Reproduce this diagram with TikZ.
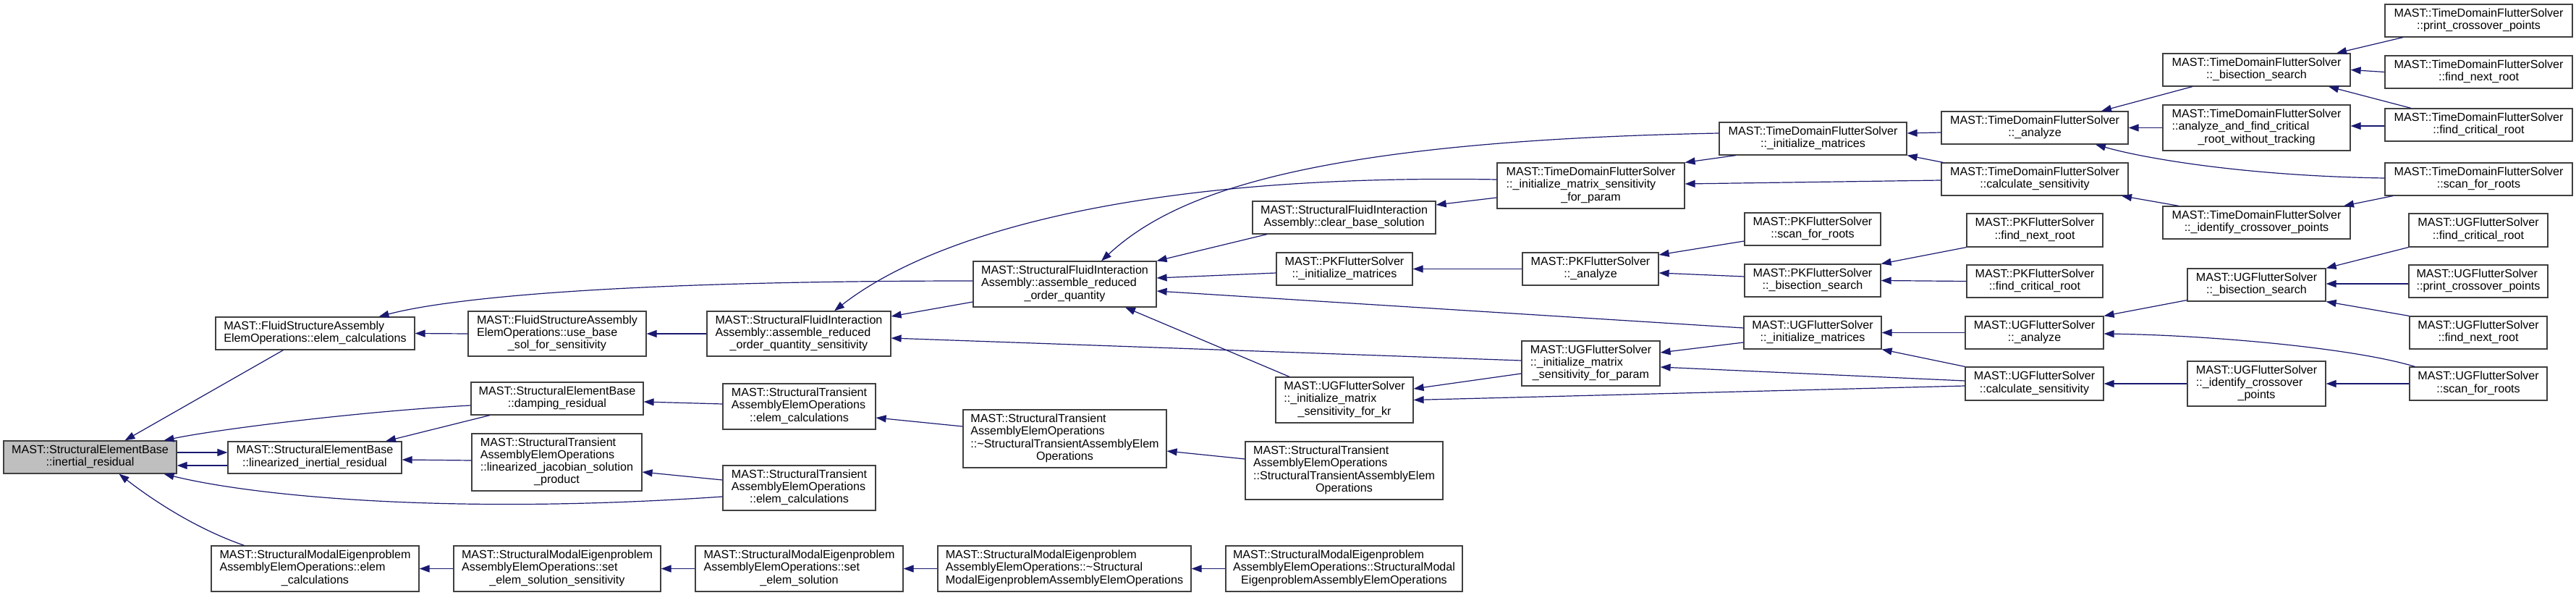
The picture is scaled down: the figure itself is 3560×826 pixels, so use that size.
\documentclass[tikz,border=0pt]{standalone}
\usepackage{fontspec}
\setsansfont{Liberation Sans}
\usetikzlibrary{arrows.meta}

\definecolor{edgeblue}{HTML}{191970}
\definecolor{rootgray}{HTML}{BFBFBF}
\definecolor{boxline}{HTML}{404040}

% first lines left, last line centred (doxygen style)
\newcommand{\fnlabel}[2]{\begin{tabular}{@{}l@{}}#1\\\multicolumn{1}{@{}c@{}}{#2}\end{tabular}}

\begin{document}
\begin{tikzpicture}[
  x=1pt, y=-1pt,
  font=\sffamily\fontsize{16.1}{17.3}\selectfont,
  >={Triangle[length=14pt,width=10pt]},
  fn/.style={draw=boxline, line width=1.2pt, fill=white, inner sep=0pt},
  call/.style={draw=edgeblue, line width=1.2pt, <-}
]
\useasboundingbox (0,0) rectangle (3560,826);

% Root
\node[fn, fill=rootgray, minimum width=239pt, minimum height=45pt] (root) at (124.5,631.5) {\fnlabel{MAST::StructuralElementBase}{::inertial\_residual}};

% Column 1
\node[fn, minimum width=275pt, minimum height=45pt] (fsaElem) at (435.5,460.5) {\fnlabel{MAST::FluidStructureAssembly}{ElemOperations::elem\_calculations}};
\node[fn, minimum width=240pt, minimum height=44pt] (linRes) at (435,632) {\fnlabel{MAST::StructuralElementBase}{::linearized\_inertial\_residual}};
\node[fn, minimum width=287pt, minimum height=63pt] (modalElem) at (435.5,785.5) {\fnlabel{MAST::StructuralModalEigenproblem\\AssemblyElemOperations::elem}{\_calculations}};

% Column 2
\node[fn, minimum width=246pt, minimum height=62pt] (useBase) at (770,461) {\fnlabel{MAST::FluidStructureAssembly\\ElemOperations::use\_base}{\_sol\_for\_sensitivity}};
\node[fn, minimum width=238pt, minimum height=45pt] (dampRes) at (770,550.5) {\fnlabel{MAST::StructuralElementBase}{::damping\_residual}};
\node[fn, minimum width=235pt, minimum height=79pt] (linJac) at (769.5,638.5) {\fnlabel{MAST::StructuralTransient\\AssemblyElemOperations\\::linearized\_jacobian\_solution}{\_product}};
\node[fn, minimum width=286pt, minimum height=63pt] (setSolSens) at (770,785.5) {\fnlabel{MAST::StructuralModalEigenproblem\\AssemblyElemOperations::set}{\_elem\_solution\_sensitivity}};

% Column 3
\node[fn, minimum width=254pt, minimum height=62pt] (roqSens) at (1104,461) {\fnlabel{MAST::StructuralFluidInteraction\\Assembly::assemble\_reduced}{\_order\_quantity\_sensitivity}};
\node[fn, minimum width=211pt, minimum height=63pt] (stElemA) at (1104.5,561.5) {\fnlabel{MAST::StructuralTransient\\AssemblyElemOperations}{::elem\_calculations}};
\node[fn, minimum width=211pt, minimum height=62pt] (stElemB) at (1104.5,674) {\fnlabel{MAST::StructuralTransient\\AssemblyElemOperations}{::elem\_calculations}};
\node[fn, minimum width=287pt, minimum height=63pt] (setSol) at (1104.5,785.5) {\fnlabel{MAST::StructuralModalEigenproblem\\AssemblyElemOperations::set}{\_elem\_solution}};

% Column 4
\node[fn, minimum width=253pt, minimum height=63pt] (roq) at (1471.5,392.5) {\fnlabel{MAST::StructuralFluidInteraction\\Assembly::assemble\_reduced}{\_order\_quantity}};
\node[fn, minimum width=281pt, minimum height=80pt] (stDtor) at (1471.5,606) {\fnlabel{MAST::StructuralTransient\\AssemblyElemOperations\\::\textasciitilde StructuralTransientAssemblyElem}{Operations}};
\node[fn, minimum width=350pt, minimum height=63pt] (modalDtor) at (1471,785.5) {\fnlabel{MAST::StructuralModalEigenproblem\\AssemblyElemOperations::\textasciitilde Structural}{ModalEigenproblemAssemblyElemOperations}};

% Column 5
\node[fn, minimum width=253pt, minimum height=45pt] (clearBase) at (1857.5,300.5) {\fnlabel{MAST::StructuralFluidInteraction}{Assembly::clear\_base\_solution}};
\node[fn, minimum width=188pt, minimum height=45pt] (pkInit) at (1858,371.5) {\fnlabel{MAST::PKFlutterSolver}{::\_initialize\_matrices}};
\node[fn, minimum width=190pt, minimum height=63pt] (ugKr) at (1858,552.5) {\fnlabel{MAST::UGFlutterSolver\\::\_initialize\_matrix}{\_sensitivity\_for\_kr}};
\node[fn, minimum width=273pt, minimum height=80pt] (stCtor) at (1857.5,650) {\fnlabel{MAST::StructuralTransient\\AssemblyElemOperations\\::StructuralTransientAssemblyElem}{Operations}};
\node[fn, minimum width=327pt, minimum height=63pt] (modalCtor) at (1857.5,785.5) {\fnlabel{MAST::StructuralModalEigenproblem\\AssemblyElemOperations::StructuralModal}{EigenproblemAssemblyElemOperations}};

% Column 6
\node[fn, minimum width=259pt, minimum height=63pt] (tdInitSens) at (2198.5,256.5) {\fnlabel{MAST::TimeDomainFlutterSolver\\::\_initialize\_matrix\_sensitivity}{\_for\_param}};
\node[fn, minimum width=188pt, minimum height=45pt] (pkAnalyze) at (2198,371.5) {\fnlabel{MAST::PKFlutterSolver}{::\_analyze}};
\node[fn, minimum width=191pt, minimum height=62pt] (ugInitSens) at (2198.5,502) {\fnlabel{MAST::UGFlutterSolver\\::\_initialize\_matrix}{\_sensitivity\_for\_param}};

% Column 7
\node[fn, minimum width=259pt, minimum height=45pt] (tdInit) at (2505.5,191.5) {\fnlabel{MAST::TimeDomainFlutterSolver}{::\_initialize\_matrices}};
\node[fn, minimum width=188pt, minimum height=45pt] (pkScan) at (2505,316.5) {\fnlabel{MAST::PKFlutterSolver}{::scan\_for\_roots}};
\node[fn, minimum width=188pt, minimum height=45pt] (pkBisect) at (2505,387.5) {\fnlabel{MAST::PKFlutterSolver}{::\_bisection\_search}};
\node[fn, minimum width=190pt, minimum height=45pt] (ugInit) at (2505,459.5) {\fnlabel{MAST::UGFlutterSolver}{::\_initialize\_matrices}};

% Column 8
\node[fn, minimum width=258pt, minimum height=45pt] (tdAnalyze) at (2812,176.5) {\fnlabel{MAST::TimeDomainFlutterSolver}{::\_analyze}};
\node[fn, minimum width=258pt, minimum height=45pt] (tdCalcSens) at (2812,247.5) {\fnlabel{MAST::TimeDomainFlutterSolver}{::calculate\_sensitivity}};
\node[fn, minimum width=188pt, minimum height=46pt] (pkNext) at (2812,318) {\fnlabel{MAST::PKFlutterSolver}{::find\_next\_root}};
\node[fn, minimum width=188pt, minimum height=45pt] (pkCrit) at (2812,388.5) {\fnlabel{MAST::PKFlutterSolver}{::find\_critical\_root}};
\node[fn, minimum width=191pt, minimum height=45pt] (ugAnalyze) at (2811.5,459.5) {\fnlabel{MAST::UGFlutterSolver}{::\_analyze}};
\node[fn, minimum width=191pt, minimum height=46pt] (ugCalcSens) at (2811.5,530) {\fnlabel{MAST::UGFlutterSolver}{::calculate\_sensitivity}};

% Column 9
\node[fn, minimum width=259pt, minimum height=45pt] (tdBisect) at (3118.5,96.5) {\fnlabel{MAST::TimeDomainFlutterSolver}{::\_bisection\_search}};
\node[fn, minimum width=259pt, minimum height=63pt] (tdAnaCrit) at (3118.5,176.5) {\fnlabel{MAST::TimeDomainFlutterSolver\\::analyze\_and\_find\_critical}{\_root\_without\_tracking}};
\node[fn, minimum width=259pt, minimum height=45pt] (tdIdent) at (3118.5,307.5) {\fnlabel{MAST::TimeDomainFlutterSolver}{::\_identify\_crossover\_points}};
\node[fn, minimum width=191pt, minimum height=45pt] (ugBisect) at (3118.5,393.5) {\fnlabel{MAST::UGFlutterSolver}{::\_bisection\_search}};
\node[fn, minimum width=191pt, minimum height=62pt] (ugIdent) at (3118.5,530) {\fnlabel{MAST::UGFlutterSolver\\::\_identify\_crossover}{\_points}};

% Column 10
\node[fn, minimum width=259pt, minimum height=45pt] (tdPrint) at (3425.5,28.5) {\fnlabel{MAST::TimeDomainFlutterSolver}{::print\_crossover\_points}};
\node[fn, minimum width=259pt, minimum height=45pt] (tdNext) at (3425.5,99.5) {\fnlabel{MAST::TimeDomainFlutterSolver}{::find\_next\_root}};
\node[fn, minimum width=259pt, minimum height=45pt] (tdCrit) at (3425.5,172.5) {\fnlabel{MAST::TimeDomainFlutterSolver}{::find\_critical\_root}};
\node[fn, minimum width=259pt, minimum height=45pt] (tdScan) at (3425.5,247.5) {\fnlabel{MAST::TimeDomainFlutterSolver}{::scan\_for\_roots}};
\node[fn, minimum width=192pt, minimum height=46pt] (ugCrit) at (3425,318) {\fnlabel{MAST::UGFlutterSolver}{::find\_critical\_root}};
\node[fn, minimum width=192pt, minimum height=45pt] (ugPrint) at (3425,388.5) {\fnlabel{MAST::UGFlutterSolver}{::print\_crossover\_points}};
\node[fn, minimum width=190pt, minimum height=45pt] (ugNext) at (3425,459.5) {\fnlabel{MAST::UGFlutterSolver}{::find\_next\_root}};
\node[fn, minimum width=190pt, minimum height=46pt] (ugScan) at (3425,530) {\fnlabel{MAST::UGFlutterSolver}{::scan\_for\_roots}};

% Calls into the root
\draw[call] ([xshift=48pt]root.north) -- ([xshift=-44pt]fsaElem.south);
\draw[call] ([xshift=102pt]root.north) .. controls (300,593) and (500,568) .. ([yshift=-9.5pt]dampRes.west);
\draw[call, ->] ([yshift=6.5pt]root.east) -- ([yshift=7pt]linRes.west);
\draw[call] ([yshift=-11.5pt]root.east) -- ([yshift=-11pt]linRes.west);
\draw[call] ([xshift=102pt]root.south) .. controls (350,685) and (620,712) .. ([yshift=-12pt]stElemB.west);
\draw[call] ([xshift=40pt]root.south) .. controls (210,690) and (270,730) .. ([xshift=-98pt]modalElem.north);

% Structural side
\draw[call] ([xshift=98pt]linRes.north) -- ([xshift=-93pt]dampRes.south);
\draw[call] ([yshift=-3pt]linRes.east) -- ([yshift=2.5pt]linJac.west);
\draw[call] (fsaElem.east) -- (useBase.west);
\draw[call] ([xshift=88pt]fsaElem.north) .. controls (620,412) and (850,388) .. ([yshift=4.5pt]roq.west);
\draw[call] ([yshift=-4.5pt]dampRes.east) -- ([yshift=3.5pt]stElemA.west);
\draw[call] ([yshift=-13.5pt]linJac.east) -- ([yshift=11pt]stElemB.west);
\draw[call] (modalElem.east) -- (setSolSens.west);
\draw[call] (setSolSens.east) -- (setSol.west);
\draw[call] (setSol.east) -- (modalDtor.west);
\draw[call] (modalDtor.east) -- (modalCtor.west);
\draw[call] (useBase.east) -- (roqSens.west);
\draw[call] ([yshift=-15.5pt]stElemA.east) -- ([yshift=17pt]stDtor.west);
\draw[call] ([yshift=-17pt]stDtor.east) -- ([yshift=16pt]stCtor.west);

% Fluid interaction assembly
\draw[call] ([yshift=24pt]roqSens.east) -- ([yshift=-24.5pt]roq.west);
\draw[call] ([xshift=49pt]roqSens.north) .. controls (1300,315) and (1600,240) .. ([yshift=8.5pt]tdInitSens.west);
\draw[call] ([yshift=-6pt]roqSens.east) -- ([yshift=4pt]ugInitSens.west);
\draw[call] ([xshift=50.5pt]roq.north) .. controls (1620,270) and (1800,195) .. ([yshift=7.5pt]tdInit.west);
\draw[call] (roq.north east) -- ([xshift=-106.5pt]clearBase.south);
\draw[call] ([yshift=8.5pt]roq.east) -- ([yshift=-5.5pt]pkInit.west);
\draw[call] ([yshift=-9.5pt]roq.east) -- ([yshift=6.5pt]ugInit.west);
\draw[call] ([xshift=83.5pt]roq.south) -- ([xshift=-76pt]ugKr.north);
\draw[call] ([yshift=17.5pt]clearBase.east) -- ([yshift=-16.5pt]tdInitSens.west);

% Time domain solver
\draw[call] (tdInitSens.north east) -- ([xshift=-106.5pt]tdInit.south);
\draw[call] ([yshift=2.5pt]tdInitSens.east) -- ([yshift=-1.5pt]tdCalcSens.west);
\draw[call] ([yshift=7.5pt]tdInit.east) -- ([yshift=-6.5pt]tdAnalyze.west);
\draw[call] (tdInit.south east) -- ([xshift=3pt]tdCalcSens.north west);
\draw[call] ([xshift=92pt]tdAnalyze.north) -- ([xshift=-88.5pt]tdBisect.south);
\draw[call] (tdAnalyze.east) -- (tdAnaCrit.west);
\draw[call] ([xshift=84pt]tdAnalyze.south) .. controls (2960,218) and (3100,243) .. ([yshift=1.5pt]tdScan.west);
\draw[call] ([xshift=120pt]tdCalcSens.south) -- ([xshift=-107.5pt]tdIdent.north);
\draw[call] ([xshift=120.5pt]tdIdent.north) -- ([xshift=-118.5pt]tdScan.south);
\draw[call] ([xshift=110.5pt]tdBisect.north) -- ([xshift=-104.5pt]tdPrint.south);
\draw[call] (tdBisect.east) -- (tdNext.west);
\draw[call] ([xshift=99.5pt]tdBisect.south) -- ([xshift=-93.5pt]tdCrit.north);
\draw[call] ([yshift=2.5pt]tdAnaCrit.east) -- ([yshift=-1.5pt]tdCrit.west);

% PK solver
\draw[call] (pkInit.east) -- (pkAnalyze.west);
\draw[call] ([yshift=19.5pt]pkAnalyze.east) -- ([yshift=-16.5pt]pkScan.west);
\draw[call] ([yshift=-5.5pt]pkAnalyze.east) -- ([yshift=5.5pt]pkBisect.west);
\draw[call] (pkBisect.north east) -- (pkNext.south west);
\draw[call] (pkBisect.east) -- (pkCrit.west);

% UG solver
\draw[call] ([yshift=15.5pt]ugKr.east) -- ([yshift=-14pt]ugInitSens.west);
\draw[call] (ugKr.east) -- ([yshift=-3pt]ugCalcSens.west);
\draw[call] ([yshift=15pt]ugInitSens.east) -- ([yshift=-13.5pt]ugInit.west);
\draw[call] ([yshift=-5pt]ugInitSens.east) -- ([yshift=4pt]ugCalcSens.west);
\draw[call] (ugInit.east) -- (ugAnalyze.west);
\draw[call] (ugInit.south east) -- (ugCalcSens.north west);
\draw[call] (ugAnalyze.north east) -- ([yshift=2pt]ugBisect.south west);
\draw[call] ([yshift=-1.5pt]ugAnalyze.east) .. controls (3050,463) and (3250,480) .. ([xshift=8pt]ugScan.north west);
\draw[call] (ugCalcSens.east) -- (ugIdent.west);
\draw[call] (ugIdent.east) -- (ugScan.west);
\draw[call] (ugBisect.north east) -- (ugCrit.south west);
\draw[call] ([yshift=1.5pt]ugBisect.east) -- ([yshift=-3.5pt]ugPrint.west);
\draw[call] (ugBisect.south east) -- (ugNext.north west);

\end{tikzpicture}
\end{document}
